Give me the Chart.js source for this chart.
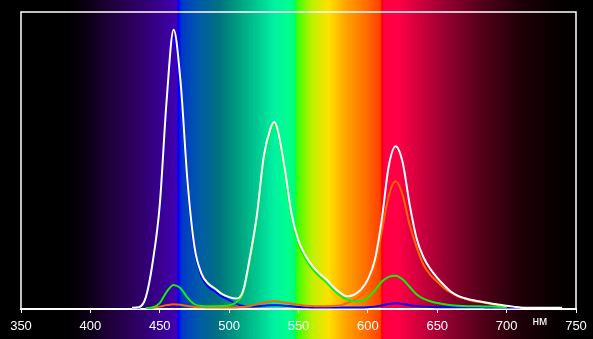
<!DOCTYPE html>
<html><head><meta charset="utf-8">
<script src="https://cdn.jsdelivr.net/npm/chart.js@4/dist/chart.umd.min.js"></script>
<style>html,body{margin:0;padding:0;background:#000;}#c{display:block;}</style>
</head><body>
<canvas id="c" width="593" height="339"></canvas>
<script>
const wavelengths = [430,435,440,445,450,455,460,465,470,475,480,485,490,495,500,505,510,515,520,525,530,532.5,535,540,545,550,555,560,565,570,575,580,585,590,595,600,605,610,615,620,625,630,635,640,645,650,655,660,665,670,675,680,685,690,695,700,705,710,715,720,725,730,735,740];
const whiteSeries = [0.4,0.6,4,16,35,70.5,94,76.5,43,21,12,8.5,6.8,5,4,3.5,6,17.5,31.5,51.5,61,63,60.3,47.5,32,23,18,14.5,12,10,7.5,5.5,4.3,4.8,6.5,10,16.5,30,48,54.8,49.5,35.5,24,17.5,13.5,10.5,8,5.8,4.4,3.6,3,2.6,2.2,1.8,1.4,1.1,0.8,0.5,0.4,0.4,0.4,0.4,0.4,0.4];
const redSeries = [null,null,0.2,0.4,0.8,1.3,1.6,1.4,1,0.7,0.6,0.5,0.5,0.5,0.5,0.5,0.7,1,1.6,2.2,2.5,2.6,2.5,2.2,1.8,1.4,1.1,1,0.9,0.9,1,1.2,2,3,4.5,7.5,14.5,26,38,43,38.5,28.5,21,15,11.5,9.2,7,5.5,4.3,3.5,2.8,2.4,2,1.6,1.2,1,null,null,null,null,null,null,null,null];
const greenSeries = [null,null,0.3,0.6,2,5.8,8.1,7,3.8,1.6,1,0.9,0.9,1,1.2,2.3,5.2,16.5,30.5,50.5,60,62,59.3,46.5,31,22,17,13.5,11,9,6.5,4.5,3.2,2.6,2.7,3.8,6.2,9.2,10.8,11.2,10,7.5,5,3.5,2.6,2,1.6,1.3,1.1,1,0.9,0.9,0.8,0.8,0.7,0.7,null,null,null,null,null,null,null,null];
const blueSeries = [0.2,0.4,3.5,15,33,68,91.5,74,41.5,20,11,7.5,5.8,4.2,3,1.8,1,0.8,0.9,1.1,1.3,1.3,1.3,1.1,0.9,0.7,0.6,0.5,0.5,0.5,0.5,0.5,0.5,0.5,0.5,0.6,0.8,1.2,1.7,1.9,1.7,1.3,1,0.8,0.7,0.6,0.6,0.6,0.6,0.6,0.6,0.6,0.5,0.5,0.5,0.5,0.5,0.5,null,null,null,null,null,null];
const xTicks = [350,400,450,500,550,600,650,700,750];
const unitLabel = 'нм';

function pts(arr){ const o=[]; arr.forEach((v,i)=>{ if(v!==null) o.push({x:wavelengths[i],y:v}); }); return o; }

const spectrumStops = [
 [350,'#000000'],[385,'#000000'],[398,'#0a0014'],[413,'#1e0036'],[434,'#2e0064'],[452,'#3a0094'],[462,'#4200b4'],
 [463.5,'#0000ff'],[466,'#0038c8'],[478,'#005aa8'],[492,'#007080'],[507,'#00a080'],[520,'#00c890'],[532,'#00f0a0'],
 [543,'#00ff90'],[548,'#00ff60'],[549.2,'#40ff00'],[560,'#c0f000'],[572,'#ffe000'],[583,'#ffa800'],[598,'#ff7000'],
 [609,'#ff4000'],[610,'#ff0000'],[611.5,'#ff0040'],[622,'#ff0045'],[632,'#e00040'],[658,'#900030'],[683,'#500018'],
 [709,'#200008'],[735,'#080000'],[750,'#000000']
];

const bgPlugin = {
 id:'bg',
 beforeDraw(chart){
  const ctx=chart.ctx, xs=chart.scales.x;
  ctx.save();
  ctx.fillStyle='#000'; ctx.fillRect(0,0,chart.width,chart.height);
  const x0=xs.getPixelForValue(350), x1=xs.getPixelForValue(750);
  const g=ctx.createLinearGradient(x0,0,x1,0);
  spectrumStops.forEach(s=>g.addColorStop((s[0]-350)/400,s[1]));
  ctx.fillStyle=g; ctx.fillRect(x0,0,x1-x0,chart.height);
  ctx.restore();
 },
 beforeDatasetsDraw(chart){
  const ctx=chart.ctx, a=chart.chartArea;
  ctx.save();
  ctx.strokeStyle='#fff'; ctx.lineWidth=1.5;
  ctx.beginPath();
  ctx.moveTo(a.left,a.bottom); ctx.lineTo(a.left,a.top); ctx.lineTo(a.right,a.top); ctx.lineTo(a.right,a.bottom);
  ctx.stroke();
  ctx.restore();
 },
 afterDraw(chart){
  const ctx=chart.ctx, xs=chart.scales.x;
  ctx.save();
  ctx.fillStyle='#fff'; ctx.font='12px "Liberation Sans", Arial, sans-serif';
  ctx.textAlign='center'; ctx.textBaseline='alphabetic';
  ctx.fillText(unitLabel, xs.getPixelForValue(724), 324.5);
  ctx.restore();
 }
};

new Chart(document.getElementById('c'),{
 type:'line',
 data:{datasets:[
  {data:pts(whiteSeries),borderColor:'#ffffff',borderWidth:2,order:0},
  {data:pts(greenSeries),borderColor:'#10f010',borderWidth:2,order:1},
  {data:pts(redSeries),borderColor:'#ff6400',borderWidth:2,order:2},
  {data:pts(blueSeries),borderColor:'#0000ff',borderWidth:2,order:3}
 ]},
 options:{
  responsive:false, animation:false, devicePixelRatio:1,
  layout:{padding:{left:21,right:17,top:12,bottom:0}},
  plugins:{legend:{display:false},tooltip:{enabled:false}},
  elements:{point:{radius:0},line:{cubicInterpolationMode:'monotone',fill:false}},
  scales:{
   x:{type:'linear',min:350,max:750,
      afterBuildTicks(s){ s.ticks = xTicks.map(v=>({value:v})); },
      afterFit(s){ s.height=30; },
      grid:{display:true,drawOnChartArea:false,drawTicks:true,tickLength:4,color:'#ffffff',lineWidth:1},
      border:{display:true,color:'#ffffff',width:2},
      ticks:{color:'#ffffff',padding:6,maxRotation:0,autoSkip:false,font:{family:'"Liberation Sans", Arial, sans-serif',size:13}}},
   y:{display:false,min:0,max:100}
  }
 },
 plugins:[bgPlugin]
});
</script>
</body></html>
